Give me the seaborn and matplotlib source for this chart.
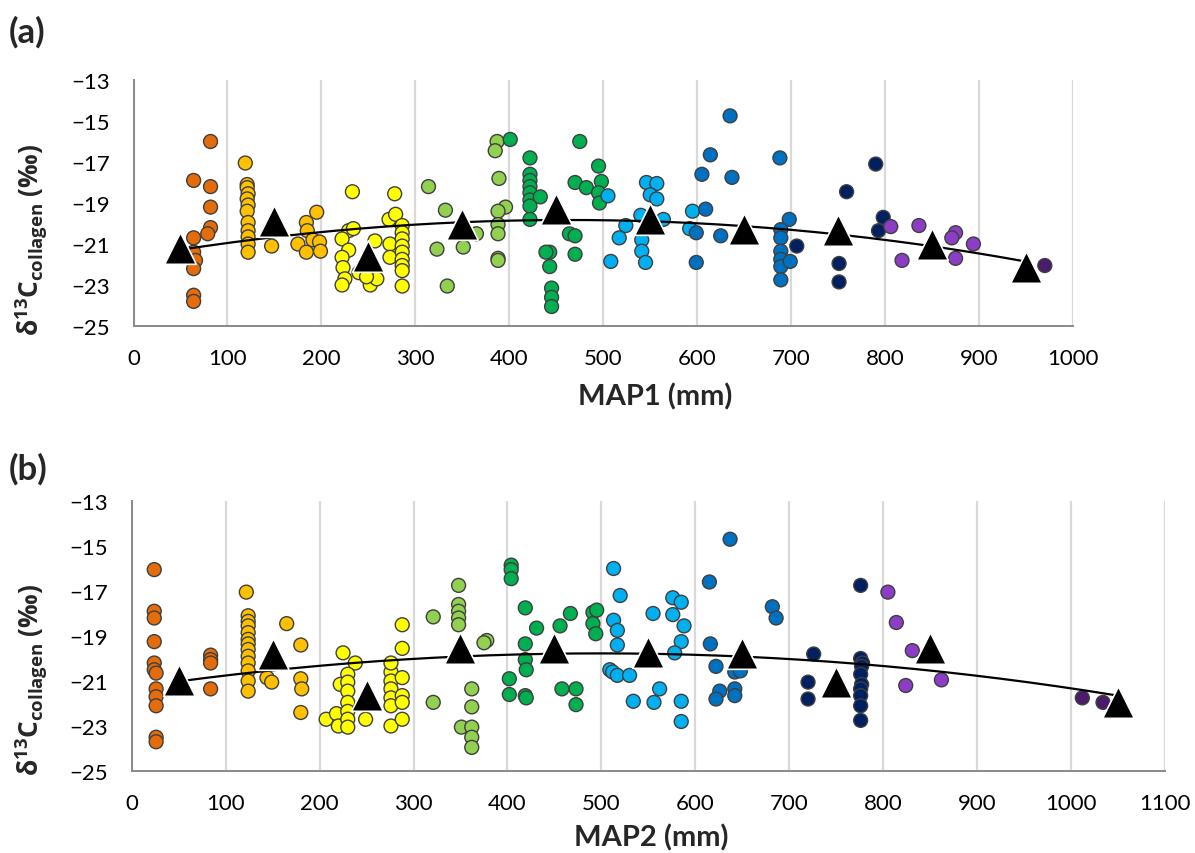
import numpy as np
import pandas as pd
import matplotlib
matplotlib.use("Agg")
import matplotlib.pyplot as plt
from matplotlib.ticker import MultipleLocator
import seaborn as sns

# ---------------- Panel (a): MAP1 (mm) vs d13C collagen ----------------
A_ORANGE_MAP = [82, 64, 82, 82, 82, 79, 64, 64, 66, 64, 64, 64]
A_ORANGE_D13C = [-16.0, -17.9, -18.2, -19.2, -20.2, -20.5, -20.7, -21.4, -21.8, -22.2, -23.5, -23.8]
A_AMBER_MAP = [119, 121, 121, 122, 121, 122, 121, 122, 122, 122, 122, 122,
               147, 175, 184, 185, 195, 191, 198, 199, 184]
A_AMBER_D13C = [-17.05, -18.1, -18.25, -18.55, -18.8, -19.1, -19.4, -19.95, -20.35, -20.65, -21.0, -21.4,
                -21.1, -21.0, -19.95, -20.35, -19.45, -20.8, -20.9, -21.35, -21.4]
A_YELLOW_MAP = [233, 278, 229, 234, 222, 229, 222, 223, 225, 222, 252, 252, 257, 259, 272, 279, 273, 273,
                286, 286, 286, 286, 286, 286, 286, 286, 286, 240, 248]
A_YELLOW_D13C = [-18.45, -18.55, -20.35, -20.25, -20.75, -21.3, -21.65, -22.15, -22.7, -23.0,
                 -22.8, -23.0, -20.85, -22.7, -19.8, -19.55, -21.0, -21.65,
                 -20.1, -20.45, -20.75, -21.1, -21.4, -21.75, -22.05, -22.3, -23.05, -22.4, -22.6]
A_LTGREEN_MAP = [314, 332, 323, 351, 334, 365, 387, 385, 389, 396, 388, 388, 388, 388, 388]
A_LTGREEN_D13C = [-18.2, -19.35, -21.25, -21.15, -23.05, -20.5, -16.0, -16.45, -17.8, -19.2, -19.4,
                  -20.05, -20.5, -21.7, -21.8]
A_GREEN_MAP = [401, 422, 422, 422, 422, 422, 422, 422, 422, 433, 443, 439, 443, 445, 445, 445,
               475, 470, 482, 495, 498, 495, 496, 464, 470, 470]
A_GREEN_D13C = [-15.9, -16.8, -17.6, -17.9, -18.2, -18.5, -18.85, -19.15, -19.8, -18.7, -21.4, -21.4,
                -22.1, -23.15, -23.6, -24.05, -16.0, -18.0, -18.25, -17.2, -17.95, -18.5, -19.0,
                -20.5, -20.6, -21.5]
A_LTBLUE_MAP = [505, 546, 557, 550, 557, 564, 524, 517, 541, 541, 545, 508, 595, 592, 540]
A_LTBLUE_D13C = [-18.65, -18.0, -18.05, -18.6, -18.8, -19.8, -20.1, -20.7, -20.8, -21.35, -21.9,
                 -21.85, -19.4, -20.25, -19.6]
A_BLUE_MAP = [635, 614, 605, 637, 609, 599, 625, 599, 688, 698, 689, 689, 689, 689, 689, 689, 699]
A_BLUE_D13C = [-14.75, -16.65, -17.6, -17.75, -19.3, -20.45, -20.6, -21.9, -16.8, -19.8, -20.3,
               -20.7, -21.35, -21.75, -22.1, -22.75, -21.85]
A_NAVY_MAP = [706, 751, 751, 790, 759, 798, 793]
A_NAVY_D13C = [-21.1, -21.95, -22.85, -17.1, -18.45, -19.7, -20.35]
A_PURPLE_MAP = [806, 836, 875, 871, 894, 818, 875]
A_PURPLE_D13C = [-20.15, -20.1, -20.45, -20.7, -21.0, -21.8, -21.7]
A_DKPURPLE_MAP = [970]
A_DKPURPLE_D13C = [-22.05]
A_BIN_MAP = [50, 150, 250, 350, 450, 550, 650, 750, 850, 950]
A_BIN_D13C = [-21.2, -19.9, -21.6, -20.0, -19.3, -19.8, -20.25, -20.3, -21.0, -22.1]

# ---------------- Panel (b): MAP2 (mm) vs d13C collagen ----------------
B_ORANGE_MAP = [24, 24, 24, 24, 24, 24, 26, 26, 26, 26, 26, 26, 84, 84, 84, 84]
B_ORANGE_D13C = [-16.05, -17.9, -18.2, -19.25, -20.2, -20.5, -20.65, -21.35, -21.7, -22.1, -23.5,
                 -23.7, -19.85, -20.05, -20.2, -21.35]
B_AMBER_MAP = [122, 124, 124, 124, 124, 124, 124, 124, 124, 124, 124, 124, 124,
               144, 149, 165, 180, 180, 181, 180]
B_AMBER_D13C = [-17.05, -18.1, -18.35, -18.55, -18.85, -19.15, -19.35, -19.6, -19.9, -20.2, -20.55,
                -21.0, -21.45, -20.85, -21.05, -18.45, -19.4, -20.9, -21.35, -22.4]
B_YELLOW_MAP = [207, 218, 220, 225, 238, 222, 230, 230, 230, 230, 230, 230, 230, 249,
                276, 276, 276, 276, 276, 276, 276, 288, 288, 288, 288, 288, 288]
B_YELLOW_D13C = [-22.7, -22.45, -23.0, -19.75, -20.2, -21.15, -20.7, -21.05, -21.45, -21.95, -22.35,
                 -22.7, -23.05, -22.7, -20.6, -20.2, -21.0, -21.35, -21.75, -22.1, -23.0,
                 -18.5, -19.55, -20.85, -21.65, -21.95, -22.7]
B_LTGREEN_MAP = [321, 321, 348, 348, 348, 348, 348, 362, 362, 351, 362, 362, 362, 378, 375]
B_LTGREEN_D13C = [-18.15, -21.95, -16.75, -17.6, -17.9, -18.2, -18.5, -21.35, -22.15, -23.05, -23.05,
                  -23.5, -23.95, -19.2, -19.3]
B_GREEN_MAP = [404, 404, 404, 419, 431, 419, 419, 420, 402, 402, 419, 420, 456, 467, 458, 473, 473,
               491, 495, 491, 494]
B_GREEN_D13C = [-15.85, -16.05, -16.45, -17.75, -18.65, -19.35, -20.05, -20.5, -20.9, -21.6, -21.65,
                -21.75, -18.55, -18.0, -21.35, -21.35, -22.05, -17.95, -17.85, -18.45, -18.9]
B_LTBLUE_MAP = [513, 520, 513, 517, 517, 509, 512, 517, 530, 534, 555, 562, 556, 576, 585, 576, 588,
                585, 578, 585, 585]
B_LTBLUE_D13C = [-16.0, -17.2, -18.3, -18.75, -19.4, -20.5, -20.6, -20.75, -20.75, -21.9, -18.0,
                 -21.35, -21.95, -17.3, -17.5, -18.05, -18.55, -19.25, -19.75, -21.9, -22.8]
B_BLUE_MAP = [637, 615, 616, 622, 642, 648, 626, 622, 642, 642, 682, 686]
B_BLUE_D13C = [-14.7, -16.6, -19.35, -20.35, -20.6, -20.55, -21.45, -21.8, -21.35, -21.65, -17.7, -18.2]
B_NAVY_MAP = [726, 720, 720, 776, 776, 778, 777, 776, 777, 776, 776, 776, 776]
B_NAVY_D13C = [-19.8, -21.05, -21.8, -16.75, -20.0, -20.2, -20.35, -20.7, -21.15, -21.35, -21.65,
               -22.1, -22.75]
B_PURPLE_MAP = [805, 814, 831, 824, 862]
B_PURPLE_D13C = [-17.05, -18.4, -19.65, -21.2, -20.95]
B_DKPURPLE_MAP = [1012, 1034]
B_DKPURPLE_D13C = [-21.75, -21.95]
B_BIN_MAP = [50, 150, 250, 350, 450, 550, 650, 750, 850, 1050]
B_BIN_D13C = [-20.95, -19.8, -21.6, -19.55, -19.55, -19.7, -19.75, -21.05, -19.55, -21.95]

GROUPS = ["orange", "amber", "yellow", "ltgreen", "green", "ltblue", "blue", "navy", "purple", "dkpurple"]
PALETTE = {"orange": "#E46C0A", "amber": "#FFC000", "yellow": "#FFFF00", "ltgreen": "#92D050",
           "green": "#00B050", "ltblue": "#00B0F0", "blue": "#0070C0", "navy": "#002060",
           "purple": "#8B3DC6", "dkpurple": "#4B1C6B"}

A_SETS = [(A_ORANGE_MAP, A_ORANGE_D13C), (A_AMBER_MAP, A_AMBER_D13C), (A_YELLOW_MAP, A_YELLOW_D13C),
          (A_LTGREEN_MAP, A_LTGREEN_D13C), (A_GREEN_MAP, A_GREEN_D13C), (A_LTBLUE_MAP, A_LTBLUE_D13C),
          (A_BLUE_MAP, A_BLUE_D13C), (A_NAVY_MAP, A_NAVY_D13C), (A_PURPLE_MAP, A_PURPLE_D13C),
          (A_DKPURPLE_MAP, A_DKPURPLE_D13C)]
B_SETS = [(B_ORANGE_MAP, B_ORANGE_D13C), (B_AMBER_MAP, B_AMBER_D13C), (B_YELLOW_MAP, B_YELLOW_D13C),
          (B_LTGREEN_MAP, B_LTGREEN_D13C), (B_GREEN_MAP, B_GREEN_D13C), (B_LTBLUE_MAP, B_LTBLUE_D13C),
          (B_BLUE_MAP, B_BLUE_D13C), (B_NAVY_MAP, B_NAVY_D13C), (B_PURPLE_MAP, B_PURPLE_D13C),
          (B_DKPURPLE_MAP, B_DKPURPLE_D13C)]


def make_df(sets):
    frames = []
    for g, (xs, ys) in zip(GROUPS, sets):
        frames.append(pd.DataFrame({"map": xs, "d13c": ys, "group": g}))
    return pd.concat(frames, ignore_index=True)


sns.set_theme(style="white")
plt.rcParams["font.family"] = ["Lato", "DejaVu Sans"]
plt.rcParams["mathtext.fontset"] = "custom"
plt.rcParams["mathtext.rm"] = "Open Sans"
plt.rcParams["mathtext.bf"] = "Open Sans:bold"
plt.rcParams["mathtext.it"] = "Open Sans:italic"

W, H = 1195, 854
fig = plt.figure(figsize=(W / 100, H / 100), dpi=100)


def px_axes(left, top, right, bottom):
    return fig.add_axes([left / W, 1 - bottom / H, (right - left) / W, (bottom - top) / H])


axA = px_axes(133.5, 81, 1073, 327)
axB = px_axes(131.7, 502, 1165, 772)

SPINE = "#898989"


def draw_panel(ax, sets, bin_x, bin_y, xmax, trend_end):
    df = make_df(sets)
    sns.scatterplot(data=df, x="map", y="d13c", hue="group", palette=PALETTE, s=100,
                    edgecolor="#3f3f3f", linewidth=1.0, legend=False, ax=ax, zorder=2)
    # quadratic trend through the bin means
    coef = np.polyfit(bin_x, bin_y, 2)
    xs = np.linspace(bin_x[0], trend_end, 200)
    sns.lineplot(x=xs, y=np.polyval(coef, xs), color="black", linewidth=1.6, ax=ax, zorder=3)
    sns.scatterplot(x=bin_x, y=bin_y, marker="^", s=520, color="black", edgecolor="white",
                    linewidth=1.2, legend=False, ax=ax, zorder=4)
    ax.set_xlim(0, xmax)
    ax.set_ylim(-25, -13)
    ax.xaxis.set_major_locator(MultipleLocator(100))
    ax.xaxis.set_minor_locator(MultipleLocator(50))
    ax.yaxis.set_minor_locator(MultipleLocator(1))
    ax.set_yticks(np.arange(-25, -12, 2))
    ax.grid(axis="x", which="major", color="#d9d9d9", linewidth=1.6, zorder=0)
    ax.grid(axis="y", visible=False)
    ax.set_axisbelow(True)
    for s in ["top", "right"]:
        ax.spines[s].set_visible(False)
    for s in ["left", "bottom"]:
        ax.spines[s].set_color(SPINE)
        ax.spines[s].set_linewidth(1.4)
    ax.tick_params(axis="both", which="both", direction="out", color=SPINE, width=1.3,
                   length=6, labelsize=16, labelcolor="black")
    ax.tick_params(axis="y", which="both", pad=11)
    ax.tick_params(axis="x", which="both", pad=10)
    ax.set_xlabel("")
    ax.set_ylabel("")


draw_panel(axA, A_SETS, A_BIN_MAP, A_BIN_D13C, 1000, 950)
draw_panel(axB, B_SETS, B_BIN_MAP, B_BIN_D13C, 1100, 1050)

fig.text(655 / W, 1 - 397 / H, "MAP1 (mm)", fontsize=21, fontweight="bold", ha="center", va="center")
fig.text(651 / W, 1 - 838 / H, "MAP2 (mm)", fontsize=21, fontweight="bold", ha="center", va="center")

ylab = r"$\mathbf{\delta^{13}C_{collagen}}$" + " " + r"$\mathbf{(‰)}$"
fig.text(32 / W, 1 - 240 / H, ylab, rotation=90, ha="center", va="center", fontsize=19)
fig.text(32 / W, 1 - 680 / H, ylab, rotation=90, ha="center", va="center", fontsize=19)

fig.text(9 / W, 1 - 32 / H, "(a)", fontsize=25, fontweight="bold", ha="left", va="center")
fig.text(9 / W, 1 - 469 / H, "(b)", fontsize=25, fontweight="bold", ha="left", va="center")

fig.savefig("out.png", dpi=100, facecolor="white")
